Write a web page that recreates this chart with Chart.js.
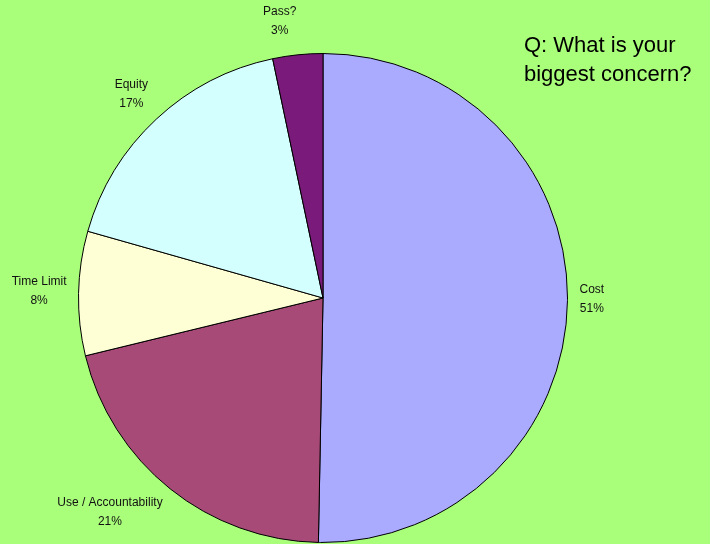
<!DOCTYPE html>
<html>
<head>
<meta charset="utf-8">
<script src="https://cdn.jsdelivr.net/npm/chart.js@4"></script>
<style>
    html, body { margin: 0; padding: 0; background: #aaff7a; }
    #wrap { position: relative; width: 710px; height: 544px; }
    #title {
        position: absolute; left: 524px; top: 30px;
        font: 22px "Liberation Sans", Arial, sans-serif; line-height: 29px; color: #000;
    }
</style>
</head>
<body>
<div id="wrap">
    <canvas id="pie-chart" width="710" height="544"></canvas>
    <div id="title">Q: What is your<br>biggest concern?</div>
</div>
<script>
const LABELS = ["Cost", "Use / Accountability", "Time Limit", "Equity", "Pass?"];
// slice sizes (percent of the whole)
const VALUES = [50.3, 20.9, 8.2, 17.3, 3.3];
// percentages as printed next to each slice
const PERCENT_LABELS = ["51%", "21%", "8%", "17%", "3%"];
const SLICE_COLORS = ["#aaaaff", "#a84a78", "#ffffd5", "#d4ffff", "#7a1a7a"];

// draws "Label\nNN%" outside each slice; the box sits on the side facing away from the pie
const outsideLabels = {
    id: "outsideLabels",
    afterDatasetsDraw(chart) {
        const ctx = chart.ctx;
        const meta = chart.getDatasetMeta(0);
        ctx.save();
        ctx.font = "12px 'Liberation Sans', Arial, sans-serif";
        ctx.fillStyle = "#111";
        ctx.textAlign = "center";
        ctx.textBaseline = "middle";
        meta.data.forEach((arc, i) => {
            const mid = (arc.startAngle + arc.endAngle) / 2;
            const cos = Math.cos(mid), sin = Math.sin(mid);
            const d = arc.outerRadius + 12;
            const pct = PERCENT_LABELS[i];
            const w = Math.max(ctx.measureText(LABELS[i]).width, ctx.measureText(pct).width);
            const x = arc.x + cos * d + Math.sign(cos) * w / 2;
            const y = arc.y + sin * d + sin * 20 - 2;
            ctx.fillText(LABELS[i], x, y - 9);
            ctx.fillText(pct, x, y + 10);
        });
        ctx.restore();
    },
};

new Chart(document.getElementById("pie-chart").getContext("2d"), {
    type: "pie",
    data: {
        labels: LABELS,
        datasets: [
            {
                data: VALUES,
                backgroundColor: SLICE_COLORS,
                borderColor: "#000",
                borderWidth: 1,
            },
        ],
    },
    options: {
        responsive: false,
        animation: false,
        layout: { padding: { left: 78, right: 142, top: 53, bottom: 1 } },
        plugins: {
            legend: { display: false },
            tooltip: { enabled: false },
        },
    },
    plugins: [outsideLabels],
});
</script>
</body>
</html>
